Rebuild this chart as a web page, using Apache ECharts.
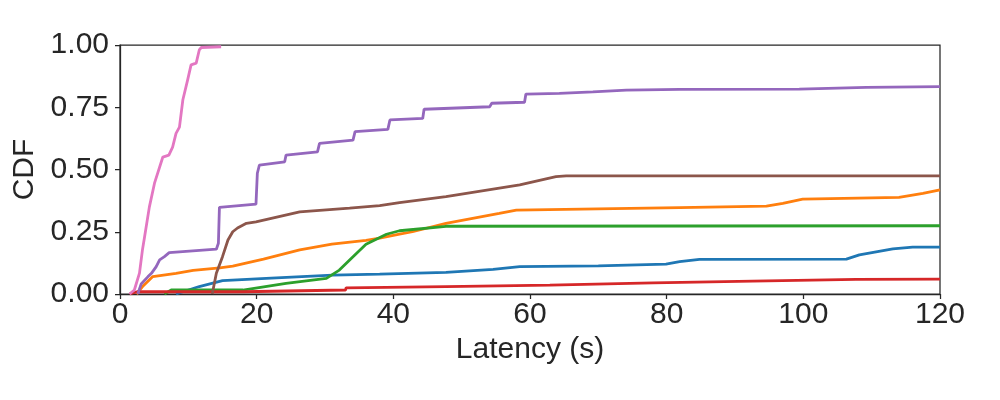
<!DOCTYPE html>
<html>
<head>
<meta charset="utf-8">
<title>CDF</title>
<script src="https://cdn.jsdelivr.net/npm/echarts@6/dist/echarts.min.js"></script>
<style>
html, body { margin: 0; padding: 0; background: #fff; }
#main { width: 1000px; height: 400px; }
</style>
</head>
<body>
<div id="main"></div>
<script>
// tick labels
var xTicks = [0, 20, 40, 60, 80, 100, 120];
var yTicks = [0, 0.25, 0.5, 0.75, 1];

// [latency, cdf] per series
var blueData = [[8.2,0],[11.6,0.03],[15,0.054],[21.4,0.063],[31.1,0.076],[38,0.08],[47.7,0.087],[54.6,0.099],[58.5,0.11],[70,0.113],[79.9,0.12],[81.9,0.13],[84.8,0.139],[106.3,0.14],[108.2,0.157],[113.1,0.181],[116,0.188],[120,0.188]];
var orangeData = [[2.4,0],[3.3,0.03],[4.8,0.07],[8.2,0.083],[10.7,0.095],[14.6,0.105],[16.5,0.112],[21,0.14],[26.3,0.177],[31,0.2],[36,0.215],[38,0.224],[40.9,0.24],[42.8,0.25],[47.7,0.284],[55.5,0.324],[58,0.337],[81.9,0.347],[94.6,0.353],[97,0.364],[99.9,0.381],[114,0.388],[117.5,0.404],[120,0.418]];
var greenData = [[6.5,0],[7.5,0.016],[18,0.016],[24.3,0.043],[30.2,0.063],[32.1,0.096],[34.1,0.15],[36,0.2],[39,0.24],[40.9,0.254],[47.7,0.272],[120,0.274]];
var redData = [[1.4,0],[2.5,0.009],[18,0.009],[18.1,0.016],[33,0.016],[33.1,0.025],[47.7,0.03],[62.9,0.036],[78,0.045],[92.6,0.052],[107.7,0.059],[120,0.06]];
var purpleData = [[2.6,0],[3.1,0.04],[4.1,0.07],[4.6,0.083],[5.3,0.11],[5.8,0.137],[6.5,0.15],[7.2,0.166],[14.1,0.18],[14.4,0.204],[14.55,0.348],[19.9,0.361],[20.1,0.485],[20.4,0.518],[24.1,0.531],[24.3,0.558],[28.9,0.571],[29.2,0.605],[34.1,0.618],[34.4,0.652],[39.2,0.661],[39.5,0.699],[44.3,0.705],[44.5,0.742],[54.1,0.752],[54.4,0.766],[59.2,0.77],[59.4,0.803],[64.3,0.806],[69.2,0.812],[74.1,0.819],[81.9,0.822],[99.4,0.823],[109.2,0.83],[120,0.833]];
var brownData = [[13.5,0],[14.1,0.083],[15,0.15],[15.8,0.217],[16.5,0.25],[17.2,0.265],[18.5,0.284],[19.9,0.29],[26.3,0.33],[33.6,0.345],[38,0.355],[40.9,0.367],[47.7,0.391],[58.5,0.438],[63.8,0.471],[65.3,0.474],[120,0.474]];
var pinkData = [[1.4,0],[2.1,0.016],[2.85,0.084],[3.3,0.18],[3.6,0.23],[4.3,0.35],[5.05,0.445],[6.27,0.55],[7.15,0.558],[7.7,0.59],[8.2,0.645],[8.7,0.67],[9.2,0.78],[9.9,0.86],[10.4,0.92],[11.15,0.927],[11.6,0.98],[11.9,0.99],[14.8,0.993]];

var textColor = '#262626';
var fontName = '"Liberation Sans", Arial, sans-serif';

function makeLine(data, color) {
	return {
		type: 'line',
		data: data,
		showSymbol: false,
		symbol: 'none',
		lineStyle: { color: color, width: 2.8 },
		itemStyle: { color: color },
		animation: false
	};
}

var myChart = echarts.init(document.getElementById('main'), null, { renderer: 'canvas' });

var option = {
	backgroundColor: '#fff',
	animation: false,
	grid: {
		left: 120, right: 60, top: 45, bottom: 106,
		show: true, borderColor: textColor, borderWidth: 1.25,
		backgroundColor: 'transparent'
	},
	xAxis: {
		type: 'value',
		min: xTicks[0], max: xTicks[xTicks.length - 1], interval: 20,
		name: 'Latency (s)', nameLocation: 'middle', nameGap: 39,
		nameTextStyle: { color: textColor, fontSize: 30, fontFamily: fontName },
		axisLine: { show: true, lineStyle: { color: textColor, width: 1.25 } },
		axisTick: { show: true, inside: false, length: 5, lineStyle: { color: textColor, width: 1.25 } },
		axisLabel: { color: textColor, fontSize: 30, fontFamily: fontName, margin: 6 },
		splitLine: { show: false }
	},
	yAxis: {
		type: 'value',
		min: yTicks[0], max: yTicks[yTicks.length - 1], interval: 0.25,
		name: 'CDF', nameLocation: 'middle', nameGap: 80, nameRotate: 90,
		nameTextStyle: { color: textColor, fontSize: 30, fontFamily: fontName },
		axisLine: { show: true, lineStyle: { color: textColor, width: 1.25 } },
		axisTick: { show: true, inside: false, length: 5, lineStyle: { color: textColor, width: 1.25 } },
		axisLabel: {
			color: textColor, fontSize: 30, fontFamily: fontName, margin: 11,
			formatter: function (v) { return v.toFixed(2); }
		},
		splitLine: { show: false }
	},
	series: [
		makeLine(blueData, '#1f77b4'),
		makeLine(orangeData, '#ff7f0e'),
		makeLine(greenData, '#2ca02c'),
		makeLine(redData, '#d62728'),
		makeLine(purpleData, '#9467bd'),
		makeLine(brownData, '#8c564b'),
		makeLine(pinkData, '#e377c2')
	]
};

myChart.setOption(option);
</script>
</body>
</html>
